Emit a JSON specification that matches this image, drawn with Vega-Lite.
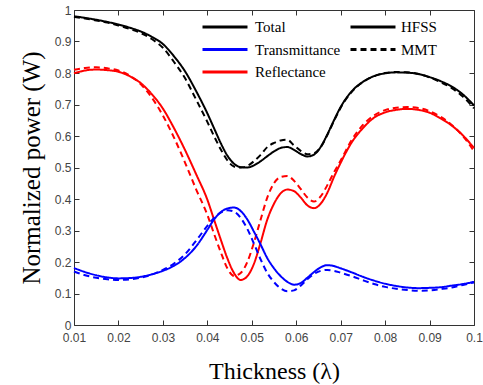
{
  "$schema": "https://vega.github.io/schema/vega-lite/v6.json",
  "autosize": "none",
  "width": 400,
  "height": 315,
  "padding": {"left": 74, "top": 10, "right": 9, "bottom": 60},
  "background": "white",
  "config": {"view": {"stroke": null}, "axis": {"grid": false}},
  "data": {"values": [
    {"q":"Total","m":"HFSS","x":0.01,"y":0.980},{"q":"Total","m":"HFSS","x":0.0125,"y":0.975},{"q":"Total","m":"HFSS","x":0.015,"y":0.969},{"q":"Total","m":"HFSS","x":0.0175,"y":0.962},{"q":"Total","m":"HFSS","x":0.02,"y":0.954},{"q":"Total","m":"HFSS","x":0.0225,"y":0.944},{"q":"Total","m":"HFSS","x":0.025,"y":0.932},{"q":"Total","m":"HFSS","x":0.0275,"y":0.915},{"q":"Total","m":"HFSS","x":0.03,"y":0.892},{"q":"Total","m":"HFSS","x":0.0325,"y":0.853},{"q":"Total","m":"HFSS","x":0.035,"y":0.805},{"q":"Total","m":"HFSS","x":0.0375,"y":0.742},{"q":"Total","m":"HFSS","x":0.04,"y":0.672},{"q":"Total","m":"HFSS","x":0.0415,"y":0.625},{"q":"Total","m":"HFSS","x":0.043,"y":0.578},{"q":"Total","m":"HFSS","x":0.0445,"y":0.538},{"q":"Total","m":"HFSS","x":0.046,"y":0.512},{"q":"Total","m":"HFSS","x":0.0475,"y":0.501},{"q":"Total","m":"HFSS","x":0.049,"y":0.500},{"q":"Total","m":"HFSS","x":0.0505,"y":0.507},{"q":"Total","m":"HFSS","x":0.052,"y":0.520},{"q":"Total","m":"HFSS","x":0.0535,"y":0.536},{"q":"Total","m":"HFSS","x":0.055,"y":0.551},{"q":"Total","m":"HFSS","x":0.0565,"y":0.562},{"q":"Total","m":"HFSS","x":0.058,"y":0.565},{"q":"Total","m":"HFSS","x":0.0595,"y":0.556},{"q":"Total","m":"HFSS","x":0.061,"y":0.543},{"q":"Total","m":"HFSS","x":0.0625,"y":0.535},{"q":"Total","m":"HFSS","x":0.064,"y":0.541},{"q":"Total","m":"HFSS","x":0.0655,"y":0.565},{"q":"Total","m":"HFSS","x":0.067,"y":0.605},{"q":"Total","m":"HFSS","x":0.0685,"y":0.650},{"q":"Total","m":"HFSS","x":0.07,"y":0.692},{"q":"Total","m":"HFSS","x":0.0725,"y":0.742},{"q":"Total","m":"HFSS","x":0.075,"y":0.772},{"q":"Total","m":"HFSS","x":0.0775,"y":0.790},{"q":"Total","m":"HFSS","x":0.08,"y":0.799},{"q":"Total","m":"HFSS","x":0.0825,"y":0.802},{"q":"Total","m":"HFSS","x":0.085,"y":0.801},{"q":"Total","m":"HFSS","x":0.0875,"y":0.797},{"q":"Total","m":"HFSS","x":0.09,"y":0.787},{"q":"Total","m":"HFSS","x":0.0925,"y":0.774},{"q":"Total","m":"HFSS","x":0.095,"y":0.757},{"q":"Total","m":"HFSS","x":0.0975,"y":0.732},{"q":"Total","m":"HFSS","x":0.1,"y":0.697},
    {"q":"Total","m":"MMT","x":0.01,"y":0.978},{"q":"Total","m":"MMT","x":0.0125,"y":0.973},{"q":"Total","m":"MMT","x":0.015,"y":0.967},{"q":"Total","m":"MMT","x":0.0175,"y":0.960},{"q":"Total","m":"MMT","x":0.02,"y":0.951},{"q":"Total","m":"MMT","x":0.0225,"y":0.940},{"q":"Total","m":"MMT","x":0.025,"y":0.927},{"q":"Total","m":"MMT","x":0.0275,"y":0.908},{"q":"Total","m":"MMT","x":0.03,"y":0.880},{"q":"Total","m":"MMT","x":0.0325,"y":0.835},{"q":"Total","m":"MMT","x":0.035,"y":0.783},{"q":"Total","m":"MMT","x":0.0375,"y":0.715},{"q":"Total","m":"MMT","x":0.04,"y":0.645},{"q":"Total","m":"MMT","x":0.0415,"y":0.600},{"q":"Total","m":"MMT","x":0.043,"y":0.558},{"q":"Total","m":"MMT","x":0.0445,"y":0.523},{"q":"Total","m":"MMT","x":0.046,"y":0.503},{"q":"Total","m":"MMT","x":0.0475,"y":0.500},{"q":"Total","m":"MMT","x":0.049,"y":0.505},{"q":"Total","m":"MMT","x":0.0505,"y":0.520},{"q":"Total","m":"MMT","x":0.052,"y":0.540},{"q":"Total","m":"MMT","x":0.0535,"y":0.565},{"q":"Total","m":"MMT","x":0.055,"y":0.578},{"q":"Total","m":"MMT","x":0.0565,"y":0.586},{"q":"Total","m":"MMT","x":0.058,"y":0.588},{"q":"Total","m":"MMT","x":0.0595,"y":0.570},{"q":"Total","m":"MMT","x":0.061,"y":0.553},{"q":"Total","m":"MMT","x":0.0625,"y":0.542},{"q":"Total","m":"MMT","x":0.064,"y":0.545},{"q":"Total","m":"MMT","x":0.0655,"y":0.565},{"q":"Total","m":"MMT","x":0.067,"y":0.603},{"q":"Total","m":"MMT","x":0.0685,"y":0.648},{"q":"Total","m":"MMT","x":0.07,"y":0.690},{"q":"Total","m":"MMT","x":0.0725,"y":0.740},{"q":"Total","m":"MMT","x":0.075,"y":0.771},{"q":"Total","m":"MMT","x":0.0775,"y":0.790},{"q":"Total","m":"MMT","x":0.08,"y":0.800},{"q":"Total","m":"MMT","x":0.0825,"y":0.803},{"q":"Total","m":"MMT","x":0.085,"y":0.802},{"q":"Total","m":"MMT","x":0.0875,"y":0.797},{"q":"Total","m":"MMT","x":0.09,"y":0.786},{"q":"Total","m":"MMT","x":0.0925,"y":0.771},{"q":"Total","m":"MMT","x":0.095,"y":0.752},{"q":"Total","m":"MMT","x":0.0975,"y":0.725},{"q":"Total","m":"MMT","x":0.1,"y":0.688},
    {"q":"Reflectance","m":"HFSS","x":0.01,"y":0.799},{"q":"Reflectance","m":"HFSS","x":0.0125,"y":0.808},{"q":"Reflectance","m":"HFSS","x":0.015,"y":0.811},{"q":"Reflectance","m":"HFSS","x":0.0175,"y":0.809},{"q":"Reflectance","m":"HFSS","x":0.02,"y":0.804},{"q":"Reflectance","m":"HFSS","x":0.0225,"y":0.790},{"q":"Reflectance","m":"HFSS","x":0.025,"y":0.768},{"q":"Reflectance","m":"HFSS","x":0.0275,"y":0.733},{"q":"Reflectance","m":"HFSS","x":0.03,"y":0.687},{"q":"Reflectance","m":"HFSS","x":0.0325,"y":0.625},{"q":"Reflectance","m":"HFSS","x":0.035,"y":0.555},{"q":"Reflectance","m":"HFSS","x":0.0375,"y":0.478},{"q":"Reflectance","m":"HFSS","x":0.04,"y":0.398},{"q":"Reflectance","m":"HFSS","x":0.0415,"y":0.335},{"q":"Reflectance","m":"HFSS","x":0.043,"y":0.272},{"q":"Reflectance","m":"HFSS","x":0.0445,"y":0.212},{"q":"Reflectance","m":"HFSS","x":0.046,"y":0.165},{"q":"Reflectance","m":"HFSS","x":0.0475,"y":0.143},{"q":"Reflectance","m":"HFSS","x":0.049,"y":0.155},{"q":"Reflectance","m":"HFSS","x":0.0505,"y":0.195},{"q":"Reflectance","m":"HFSS","x":0.052,"y":0.262},{"q":"Reflectance","m":"HFSS","x":0.0535,"y":0.335},{"q":"Reflectance","m":"HFSS","x":0.055,"y":0.385},{"q":"Reflectance","m":"HFSS","x":0.0565,"y":0.418},{"q":"Reflectance","m":"HFSS","x":0.058,"y":0.430},{"q":"Reflectance","m":"HFSS","x":0.0595,"y":0.425},{"q":"Reflectance","m":"HFSS","x":0.061,"y":0.405},{"q":"Reflectance","m":"HFSS","x":0.0625,"y":0.380},{"q":"Reflectance","m":"HFSS","x":0.064,"y":0.371},{"q":"Reflectance","m":"HFSS","x":0.0655,"y":0.385},{"q":"Reflectance","m":"HFSS","x":0.067,"y":0.420},{"q":"Reflectance","m":"HFSS","x":0.0685,"y":0.470},{"q":"Reflectance","m":"HFSS","x":0.07,"y":0.515},{"q":"Reflectance","m":"HFSS","x":0.0725,"y":0.580},{"q":"Reflectance","m":"HFSS","x":0.075,"y":0.625},{"q":"Reflectance","m":"HFSS","x":0.0775,"y":0.658},{"q":"Reflectance","m":"HFSS","x":0.08,"y":0.675},{"q":"Reflectance","m":"HFSS","x":0.0825,"y":0.683},{"q":"Reflectance","m":"HFSS","x":0.085,"y":0.686},{"q":"Reflectance","m":"HFSS","x":0.0875,"y":0.683},{"q":"Reflectance","m":"HFSS","x":0.09,"y":0.674},{"q":"Reflectance","m":"HFSS","x":0.0925,"y":0.656},{"q":"Reflectance","m":"HFSS","x":0.095,"y":0.633},{"q":"Reflectance","m":"HFSS","x":0.0975,"y":0.602},{"q":"Reflectance","m":"HFSS","x":0.1,"y":0.562},
    {"q":"Reflectance","m":"MMT","x":0.01,"y":0.810},{"q":"Reflectance","m":"MMT","x":0.0125,"y":0.816},{"q":"Reflectance","m":"MMT","x":0.015,"y":0.818},{"q":"Reflectance","m":"MMT","x":0.0175,"y":0.815},{"q":"Reflectance","m":"MMT","x":0.02,"y":0.808},{"q":"Reflectance","m":"MMT","x":0.0225,"y":0.792},{"q":"Reflectance","m":"MMT","x":0.025,"y":0.765},{"q":"Reflectance","m":"MMT","x":0.0275,"y":0.722},{"q":"Reflectance","m":"MMT","x":0.03,"y":0.665},{"q":"Reflectance","m":"MMT","x":0.0325,"y":0.595},{"q":"Reflectance","m":"MMT","x":0.035,"y":0.515},{"q":"Reflectance","m":"MMT","x":0.0375,"y":0.430},{"q":"Reflectance","m":"MMT","x":0.04,"y":0.350},{"q":"Reflectance","m":"MMT","x":0.0415,"y":0.290},{"q":"Reflectance","m":"MMT","x":0.043,"y":0.232},{"q":"Reflectance","m":"MMT","x":0.0445,"y":0.180},{"q":"Reflectance","m":"MMT","x":0.046,"y":0.156},{"q":"Reflectance","m":"MMT","x":0.0475,"y":0.165},{"q":"Reflectance","m":"MMT","x":0.049,"y":0.200},{"q":"Reflectance","m":"MMT","x":0.0505,"y":0.262},{"q":"Reflectance","m":"MMT","x":0.052,"y":0.335},{"q":"Reflectance","m":"MMT","x":0.0535,"y":0.405},{"q":"Reflectance","m":"MMT","x":0.055,"y":0.450},{"q":"Reflectance","m":"MMT","x":0.0565,"y":0.470},{"q":"Reflectance","m":"MMT","x":0.058,"y":0.473},{"q":"Reflectance","m":"MMT","x":0.0595,"y":0.458},{"q":"Reflectance","m":"MMT","x":0.061,"y":0.432},{"q":"Reflectance","m":"MMT","x":0.0625,"y":0.405},{"q":"Reflectance","m":"MMT","x":0.064,"y":0.392},{"q":"Reflectance","m":"MMT","x":0.0655,"y":0.408},{"q":"Reflectance","m":"MMT","x":0.067,"y":0.444},{"q":"Reflectance","m":"MMT","x":0.0685,"y":0.485},{"q":"Reflectance","m":"MMT","x":0.07,"y":0.522},{"q":"Reflectance","m":"MMT","x":0.0725,"y":0.588},{"q":"Reflectance","m":"MMT","x":0.075,"y":0.635},{"q":"Reflectance","m":"MMT","x":0.0775,"y":0.665},{"q":"Reflectance","m":"MMT","x":0.08,"y":0.682},{"q":"Reflectance","m":"MMT","x":0.0825,"y":0.690},{"q":"Reflectance","m":"MMT","x":0.085,"y":0.692},{"q":"Reflectance","m":"MMT","x":0.0875,"y":0.689},{"q":"Reflectance","m":"MMT","x":0.09,"y":0.679},{"q":"Reflectance","m":"MMT","x":0.0925,"y":0.661},{"q":"Reflectance","m":"MMT","x":0.095,"y":0.635},{"q":"Reflectance","m":"MMT","x":0.0975,"y":0.600},{"q":"Reflectance","m":"MMT","x":0.1,"y":0.552},
    {"q":"Transmittance","m":"HFSS","x":0.01,"y":0.181},{"q":"Transmittance","m":"HFSS","x":0.0125,"y":0.168},{"q":"Transmittance","m":"HFSS","x":0.015,"y":0.158},{"q":"Transmittance","m":"HFSS","x":0.0175,"y":0.151},{"q":"Transmittance","m":"HFSS","x":0.02,"y":0.148},{"q":"Transmittance","m":"HFSS","x":0.0225,"y":0.149},{"q":"Transmittance","m":"HFSS","x":0.025,"y":0.153},{"q":"Transmittance","m":"HFSS","x":0.0275,"y":0.161},{"q":"Transmittance","m":"HFSS","x":0.03,"y":0.172},{"q":"Transmittance","m":"HFSS","x":0.0325,"y":0.188},{"q":"Transmittance","m":"HFSS","x":0.035,"y":0.213},{"q":"Transmittance","m":"HFSS","x":0.0375,"y":0.250},{"q":"Transmittance","m":"HFSS","x":0.04,"y":0.302},{"q":"Transmittance","m":"HFSS","x":0.0415,"y":0.335},{"q":"Transmittance","m":"HFSS","x":0.043,"y":0.358},{"q":"Transmittance","m":"HFSS","x":0.0445,"y":0.370},{"q":"Transmittance","m":"HFSS","x":0.046,"y":0.373},{"q":"Transmittance","m":"HFSS","x":0.0475,"y":0.362},{"q":"Transmittance","m":"HFSS","x":0.049,"y":0.335},{"q":"Transmittance","m":"HFSS","x":0.0505,"y":0.296},{"q":"Transmittance","m":"HFSS","x":0.052,"y":0.255},{"q":"Transmittance","m":"HFSS","x":0.0535,"y":0.212},{"q":"Transmittance","m":"HFSS","x":0.055,"y":0.180},{"q":"Transmittance","m":"HFSS","x":0.0565,"y":0.155},{"q":"Transmittance","m":"HFSS","x":0.058,"y":0.137},{"q":"Transmittance","m":"HFSS","x":0.0595,"y":0.128},{"q":"Transmittance","m":"HFSS","x":0.061,"y":0.133},{"q":"Transmittance","m":"HFSS","x":0.0625,"y":0.150},{"q":"Transmittance","m":"HFSS","x":0.064,"y":0.168},{"q":"Transmittance","m":"HFSS","x":0.0655,"y":0.183},{"q":"Transmittance","m":"HFSS","x":0.067,"y":0.190},{"q":"Transmittance","m":"HFSS","x":0.0685,"y":0.187},{"q":"Transmittance","m":"HFSS","x":0.07,"y":0.180},{"q":"Transmittance","m":"HFSS","x":0.0725,"y":0.167},{"q":"Transmittance","m":"HFSS","x":0.075,"y":0.153},{"q":"Transmittance","m":"HFSS","x":0.0775,"y":0.141},{"q":"Transmittance","m":"HFSS","x":0.08,"y":0.131},{"q":"Transmittance","m":"HFSS","x":0.0825,"y":0.124},{"q":"Transmittance","m":"HFSS","x":0.085,"y":0.119},{"q":"Transmittance","m":"HFSS","x":0.0875,"y":0.117},{"q":"Transmittance","m":"HFSS","x":0.09,"y":0.118},{"q":"Transmittance","m":"HFSS","x":0.0925,"y":0.120},{"q":"Transmittance","m":"HFSS","x":0.095,"y":0.125},{"q":"Transmittance","m":"HFSS","x":0.0975,"y":0.130},{"q":"Transmittance","m":"HFSS","x":0.1,"y":0.137},
    {"q":"Transmittance","m":"MMT","x":0.01,"y":0.170},{"q":"Transmittance","m":"MMT","x":0.0125,"y":0.158},{"q":"Transmittance","m":"MMT","x":0.015,"y":0.150},{"q":"Transmittance","m":"MMT","x":0.0175,"y":0.145},{"q":"Transmittance","m":"MMT","x":0.02,"y":0.143},{"q":"Transmittance","m":"MMT","x":0.0225,"y":0.145},{"q":"Transmittance","m":"MMT","x":0.025,"y":0.150},{"q":"Transmittance","m":"MMT","x":0.0275,"y":0.160},{"q":"Transmittance","m":"MMT","x":0.03,"y":0.175},{"q":"Transmittance","m":"MMT","x":0.0325,"y":0.195},{"q":"Transmittance","m":"MMT","x":0.035,"y":0.225},{"q":"Transmittance","m":"MMT","x":0.0375,"y":0.268},{"q":"Transmittance","m":"MMT","x":0.04,"y":0.315},{"q":"Transmittance","m":"MMT","x":0.0415,"y":0.340},{"q":"Transmittance","m":"MMT","x":0.043,"y":0.357},{"q":"Transmittance","m":"MMT","x":0.0445,"y":0.364},{"q":"Transmittance","m":"MMT","x":0.046,"y":0.360},{"q":"Transmittance","m":"MMT","x":0.0475,"y":0.340},{"q":"Transmittance","m":"MMT","x":0.049,"y":0.305},{"q":"Transmittance","m":"MMT","x":0.0505,"y":0.258},{"q":"Transmittance","m":"MMT","x":0.052,"y":0.208},{"q":"Transmittance","m":"MMT","x":0.0535,"y":0.165},{"q":"Transmittance","m":"MMT","x":0.055,"y":0.136},{"q":"Transmittance","m":"MMT","x":0.0565,"y":0.116},{"q":"Transmittance","m":"MMT","x":0.058,"y":0.107},{"q":"Transmittance","m":"MMT","x":0.0595,"y":0.110},{"q":"Transmittance","m":"MMT","x":0.061,"y":0.125},{"q":"Transmittance","m":"MMT","x":0.0625,"y":0.145},{"q":"Transmittance","m":"MMT","x":0.064,"y":0.162},{"q":"Transmittance","m":"MMT","x":0.0655,"y":0.172},{"q":"Transmittance","m":"MMT","x":0.067,"y":0.175},{"q":"Transmittance","m":"MMT","x":0.0685,"y":0.172},{"q":"Transmittance","m":"MMT","x":0.07,"y":0.166},{"q":"Transmittance","m":"MMT","x":0.0725,"y":0.155},{"q":"Transmittance","m":"MMT","x":0.075,"y":0.142},{"q":"Transmittance","m":"MMT","x":0.0775,"y":0.130},{"q":"Transmittance","m":"MMT","x":0.08,"y":0.121},{"q":"Transmittance","m":"MMT","x":0.0825,"y":0.115},{"q":"Transmittance","m":"MMT","x":0.085,"y":0.111},{"q":"Transmittance","m":"MMT","x":0.0875,"y":0.109},{"q":"Transmittance","m":"MMT","x":0.09,"y":0.110},{"q":"Transmittance","m":"MMT","x":0.0925,"y":0.114},{"q":"Transmittance","m":"MMT","x":0.095,"y":0.119},{"q":"Transmittance","m":"MMT","x":0.0975,"y":0.127},{"q":"Transmittance","m":"MMT","x":0.1,"y":0.135}
  ]},
  "layer": [
    {
      "mark": {"type": "line", "strokeWidth": 2, "interpolate": "monotone"},
      "encoding": {
        "x": {"field": "x", "type": "quantitative",
          "scale": {"domain": [0.01, 0.1], "nice": false, "zero": false},
          "axis": {"values": [0.01,0.02,0.03,0.04,0.05,0.06,0.07,0.08,0.09,0.1], "format": ".2~f",
            "labelFont": "Liberation Sans", "labelFontSize": 12, "labelColor": "#444444", "labelFlush": false, "labelOverlap": false,
            "tickSize": -5, "tickColor": "#333333", "domainColor": "#333333", "labelPadding": 12,
            "title": "Thickness (λ)", "titleFont": "Liberation Serif", "titleFontSize": 24, "titleFontWeight": "normal", "titleColor": "#000000", "titlePadding": 16}},
        "y": {"field": "y", "type": "quantitative",
          "scale": {"domain": [0, 1], "nice": false},
          "axis": {"values": [0,0.1,0.2,0.3,0.4,0.5,0.6,0.7,0.8,0.9,1], "format": ".1~f",
            "labelFont": "Liberation Sans", "labelFontSize": 12, "labelColor": "#444444", "labelFlush": false, "labelOverlap": false,
            "tickSize": -5, "tickColor": "#333333", "domainColor": "#333333", "labelPadding": 8,
            "title": "Normalized power (W)", "titleFont": "Liberation Serif", "titleFontSize": 25, "titleFontWeight": "normal", "titleColor": "#000000", "titlePadding": 10}},
        "color": {"field": "q", "type": "nominal",
          "scale": {"domain": ["Total", "Transmittance", "Reflectance"], "range": ["#000000", "#0000ff", "#ff0000"]},
          "legend": {"title": null, "orient": "none", "legendX": 138, "legendY": 4, "symbolType": "M-2,0H2", "symbolSize": 506, "symbolStrokeWidth": 3, "symbolFillColor": "transparent",
            "labelFont": "Liberation Serif", "labelFontSize": 15, "labelColor": "#000000", "labelOffset": 17, "padding": 0, "rowPadding": 1.5}},
        "strokeDash": {"field": "m", "type": "nominal",
          "scale": {"domain": ["HFSS", "MMT"], "range": [[1, 0], [6, 4]]},
          "legend": {"title": null, "orient": "none", "legendX": 286, "legendY": 4, "symbolType": "M-2,0H2", "symbolSize": 506, "symbolStrokeWidth": 3, "symbolStrokeColor": "#000000", "symbolFillColor": "transparent",
            "labelFont": "Liberation Serif", "labelFontSize": 15, "labelColor": "#000000", "labelOffset": 15, "padding": 0, "rowPadding": 1.5}}
      }
    },
    {
      "mark": {"type": "point", "opacity": 0},
      "encoding": {
        "x": {"field": "x", "type": "quantitative",
          "axis": {"orient": "top", "values": [0.01,0.02,0.03,0.04,0.05,0.06,0.07,0.08,0.09,0.1], "labels": false, "title": null,
            "tickSize": -5, "tickColor": "#333333", "domainColor": "#333333"}},
        "y": {"field": "y", "type": "quantitative",
          "axis": {"orient": "right", "values": [0,0.1,0.2,0.3,0.4,0.5,0.6,0.7,0.8,0.9,1], "labels": false, "title": null,
            "tickSize": -5, "tickColor": "#333333", "domainColor": "#333333"}}
      }
    }
  ],
  "resolve": {"axis": {"x": "independent", "y": "independent"}}
}
